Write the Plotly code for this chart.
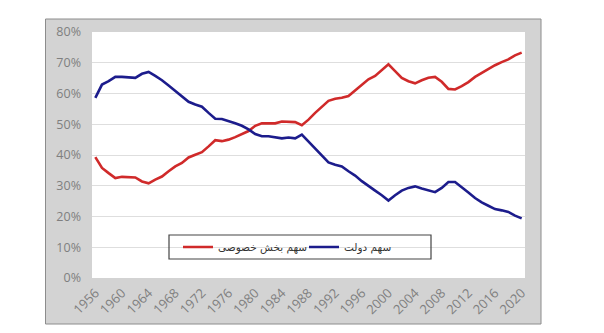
import plotly.graph_objects as go

years = list(range(1956, 2021))
private_share = [39.3, 35.8, 34.1, 32.5, 32.9, 32.7, 32.7, 31.4, 30.8, 32.0, 33.0, 34.7, 36.3,
                 37.4, 39.2, 40.1, 40.9, 42.8, 44.8, 44.5, 45.0, 45.8, 46.7, 47.8, 49.5, 50.3,
                 50.3, 50.3, 50.9, 50.7, 50.7, 49.7, 51.5, 53.7, 55.5, 57.6, 58.3, 58.6, 59.2,
                 61.0, 62.9, 64.6, 65.7, 67.5, 69.5, 67.3, 65.1, 64.0, 63.3, 64.3, 65.1, 65.4,
                 63.8, 61.5, 61.3, 62.4, 63.7, 65.4, 66.7, 67.8, 69.2, 70.2, 71.1, 72.4, 73.3]
gov_share = [58.6, 62.9, 64.0, 65.4, 65.4, 65.3, 65.1, 66.4, 67.0, 65.7, 64.3, 62.6, 60.8,
             59.1, 57.3, 56.4, 55.7, 53.7, 51.8, 51.7, 51.1, 50.3, 49.5, 48.3, 46.8, 46.1,
             46.1, 45.8, 45.4, 45.7, 45.4, 46.6, 44.4, 42.2, 39.9, 37.6, 36.8, 36.3, 34.7,
             33.3, 31.5, 29.8, 28.4, 26.9, 25.2, 26.9, 28.4, 29.3, 29.8, 29.1, 28.4, 27.9,
             29.3, 31.2, 31.2, 29.6, 27.8, 26.0, 24.6, 23.5, 22.4, 22.0, 21.5, 20.3, 19.4]
tick_years = list(range(1956, 2021, 4))
name_private = "سهم بخش خصوصی"
name_gov = "سهم دولت"

W, H = 604, 333
ML, MR, MT, MB = 92, 79, 32, 55
pw = W - ML - MR
ph = H - MT - MB

def px_x(x):
    return (x - ML) / pw

def px_y(y):
    return (H - MB - y) / ph

fig = go.Figure()
fig.add_trace(go.Scatter(x=years, y=private_share, mode="lines", name=name_private,
                         line=dict(color="#d02a2a", width=2.6), legend="legend"))
fig.add_trace(go.Scatter(x=years, y=gov_share, mode="lines", name=name_gov,
                         line=dict(color="#1c1c8c", width=2.6), legend="legend2"))

GX0, GX1, GY0, GY1 = 45.5, 541, 19, 324
white_rects = [
    (-5, GX0, -5, H + 5),
    (GX1, W + 5, -5, H + 5),
    (-5, W + 5, -5, GY0),
    (-5, W + 5, GY1, H + 5),
]
shapes = []
for (a, b, c, d) in white_rects:
    shapes.append(dict(type="rect", xref="paper", yref="paper", layer="above",
                       x0=px_x(a), x1=px_x(b), y0=px_y(d), y1=px_y(c),
                       fillcolor="white", line=dict(width=0)))
shapes.append(dict(type="rect", xref="paper", yref="paper", layer="above",
                   x0=px_x(GX0), x1=px_x(GX1), y0=px_y(GY1), y1=px_y(GY0),
                   fillcolor="rgba(0,0,0,0)", line=dict(color="#8c8c8c", width=1)))
shapes.append(dict(type="rect", xref="paper", yref="paper", layer="above",
                   x0=px_x(169), x1=px_x(431), y0=px_y(259), y1=px_y(235),
                   fillcolor="rgba(0,0,0,0)", line=dict(color="#444444", width=1.2)))

legend_common = dict(orientation="h", bgcolor="rgba(0,0,0,0)", borderwidth=0,
                     font=dict(family="DejaVu Sans", size=10.5, color="#333333"),
                     yanchor="middle", xanchor="left", y=px_y(247))

fig.update_layout(
    width=W, height=H,
    margin=dict(l=ML, r=MR, t=MT, b=MB),
    paper_bgcolor="#d3d3d3", plot_bgcolor="white",
    shapes=shapes,
    showlegend=True,
    legend=dict(**legend_common, x=px_x(178)),
    legend2=dict(**legend_common, x=px_x(304)),
    xaxis=dict(range=[1955.5, 2020.5], tickvals=tick_years, ticktext=[str(t) for t in tick_years],
               tickangle=-45, showgrid=False, zeroline=False, showline=False,
               ticklabelstandoff=4,
               tickfont=dict(family="Open Sans", size=13, color="#7f7f7f"), ticks=""),
    yaxis=dict(range=[0, 80], dtick=10, ticksuffix="%", showgrid=True, gridcolor="#dedede",
               gridwidth=1, zeroline=False, showline=False, ticks="",
               ticklabelstandoff=10,
               tickfont=dict(family="Open Sans", size=12.5, color="#7f7f7f")),
)

fig.write_html("out.html")
